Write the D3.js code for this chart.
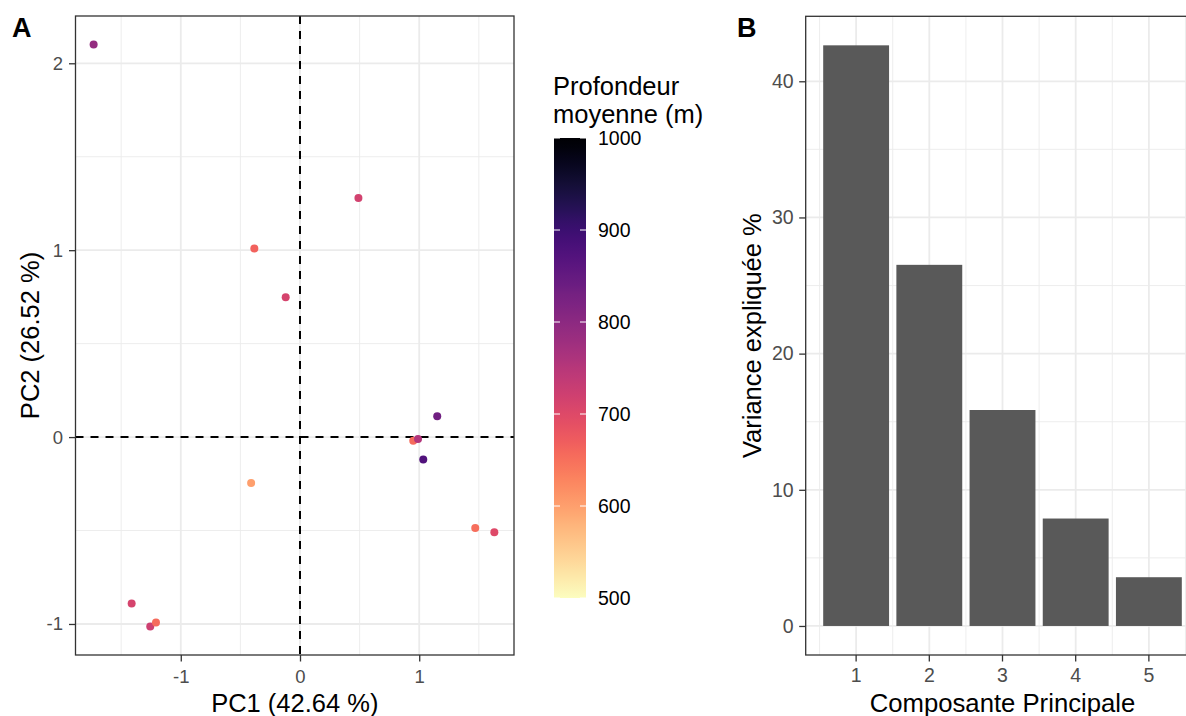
<!DOCTYPE html>
<html>
<head>
<meta charset="utf-8">
<script src="https://cdn.jsdelivr.net/npm/d3@7"></script>
<style>
  html, body { margin: 0; padding: 0; background: #fff; overflow: hidden; }
  svg { display: block; font-family: "Liberation Sans", Arial, sans-serif; }
</style>
</head>
<body>
<svg id="chart" width="1186" height="716"></svg>
<script>
// ---------- Data ----------
const pc1   = [-1.731, 0.490, -0.383, -0.120, 1.151, 0.950, 0.990, 1.034, -0.410, 1.470, 1.630, -1.412, -1.256, -1.208];
const pc2   = [ 2.100, 1.279,  1.009,  0.748, 0.112, -0.020, -0.010, -0.120, -0.246, -0.487, -0.509, -0.890, -1.014, -0.992];
const depth = [ 790,   715,    665,    712,   835,   655,    755,    875,    600,    652,    700,    712,    722,    655];

const components = [1, 2, 3, 4, 5];
const variance   = [42.64, 26.52, 15.86, 7.89, 3.58];

const xTicksA = [-1, 0, 1];
const yTicksA = [-1, 0, 1, 2];
const legendTicks = [500, 600, 700, 800, 900, 1000];
const yTicksB = [0, 10, 20, 30, 40];

const xTitleA = "PC1 (42.64 %)";
const yTitleA = "PC2 (26.52 %)";
const legendTitle = ["Profondeur", "moyenne (m)"];
const xTitleB = "Composante Principale";
const yTitleB = "Variance expliquée %";

// ---------- Setup ----------
const svg = d3.select("#chart");
const gridCol = "#EBEBEB", axisCol = "#333333", tickTxt = "#4D4D4D";
const depthColor = v => d3.interpolateMagma(1 - (v - 500) / 500);
const minusFmt = d => d < 0 ? "-" + Math.abs(d) : String(d);

// ---------- Panel A ----------
const A = { left: 75.5, right: 514, top: 16, bottom: 655 };
const xA = d3.scaleLinear().domain([-1.883, 1.795]).range([A.left, A.right]);
const yA = d3.scaleLinear().domain([-1.166, 2.253]).range([A.bottom, A.top]);

const gA = svg.append("g");
gA.selectAll(".xminA").data([-1.5, -0.5, 0.5, 1.5]).join("line")
  .attr("x1", d => xA(d)).attr("x2", d => xA(d)).attr("y1", A.top).attr("y2", A.bottom)
  .attr("stroke", gridCol).attr("stroke-width", 0.9);
gA.selectAll(".yminA").data([-0.5, 0.5, 1.5]).join("line")
  .attr("y1", d => yA(d)).attr("y2", d => yA(d)).attr("x1", A.left).attr("x2", A.right)
  .attr("stroke", gridCol).attr("stroke-width", 0.9);
gA.selectAll(".xmajA").data(xTicksA).join("line")
  .attr("x1", d => xA(d)).attr("x2", d => xA(d)).attr("y1", A.top).attr("y2", A.bottom)
  .attr("stroke", gridCol).attr("stroke-width", 1.8);
gA.selectAll(".ymajA").data(yTicksA).join("line")
  .attr("y1", d => yA(d)).attr("y2", d => yA(d)).attr("x1", A.left).attr("x2", A.right)
  .attr("stroke", gridCol).attr("stroke-width", 1.8);
gA.append("line").attr("x1", A.left).attr("x2", A.right).attr("y1", yA(0)).attr("y2", yA(0))
  .attr("stroke", "#000").attr("stroke-width", 2).attr("stroke-dasharray", "8,7");
gA.append("line").attr("x1", xA(0)).attr("x2", xA(0)).attr("y1", A.top).attr("y2", A.bottom)
  .attr("stroke", "#000").attr("stroke-width", 2).attr("stroke-dasharray", "8,7");
gA.selectAll("circle").data(pc1.map((d, i) => ({ x: d, y: pc2[i], z: depth[i] }))).join("circle")
  .attr("cx", d => xA(d.x)).attr("cy", d => yA(d.y)).attr("r", 4)
  .attr("fill", d => depthColor(d.z));
gA.append("rect").attr("x", A.left).attr("y", A.top).attr("width", A.right - A.left).attr("height", A.bottom - A.top)
  .attr("fill", "none").attr("stroke", axisCol).attr("stroke-width", 1.3);
const axA_x = gA.append("g").attr("transform", `translate(0,${A.bottom})`)
  .call(d3.axisBottom(xA).tickValues(xTicksA).tickSize(6.5).tickPadding(3).tickFormat(minusFmt));
const axA_y = gA.append("g").attr("transform", `translate(${A.left},0)`)
  .call(d3.axisLeft(yA).tickValues(yTicksA).tickSize(6.5).tickPadding(6).tickFormat(minusFmt));
[axA_x, axA_y].forEach(ax => {
  ax.select(".domain").remove();
  ax.selectAll("line").attr("stroke", axisCol).attr("stroke-width", 1.3);
  ax.selectAll("text").attr("fill", tickTxt).style("font-size", "18.5px").style("font-family", "Liberation Sans, Arial, sans-serif");
});
axA_x.selectAll("text").attr("dy", "1.0em");
svg.append("text").attr("x", (A.left + A.right) / 2).attr("y", 712).attr("text-anchor", "middle")
  .style("font-size", "25.5px").attr("fill", "#000").text(xTitleA);
svg.append("text").attr("transform", `translate(39,${(A.top + A.bottom) / 2}) rotate(-90)`).attr("text-anchor", "middle")
  .style("font-size", "25.5px").attr("fill", "#000").text(yTitleA);
svg.append("text").attr("x", 12).attr("y", 37).style("font-size", "27px").style("font-weight", "bold").text("A");

// ---------- Legend (colorbar) ----------
const L = { x: 554, w: 32, top: 138, bottom: 598 };
const yL = d3.scaleLinear().domain([500, 1000]).range([L.bottom, L.top]);
const defs = svg.append("defs");
const grad = defs.append("linearGradient").attr("id", "magmaGrad")
  .attr("x1", 0).attr("y1", 1).attr("x2", 0).attr("y2", 0);
d3.range(0, 1.0001, 0.02).forEach(t => {
  grad.append("stop").attr("offset", t).attr("stop-color", depthColor(500 + t * 500));
});
svg.append("rect").attr("x", L.x).attr("y", L.top).attr("width", L.w).attr("height", L.bottom - L.top)
  .attr("fill", "url(#magmaGrad)");
const gL = svg.append("g");
gL.selectAll(".ltl").data(legendTicks).join("line")
  .attr("x1", L.x).attr("x2", L.x + 6).attr("y1", d => yL(d)).attr("y2", d => yL(d))
  .attr("stroke", "#fff").attr("stroke-width", 1);
gL.selectAll(".ltr").data(legendTicks).join("line")
  .attr("x1", L.x + L.w - 6).attr("x2", L.x + L.w).attr("y1", d => yL(d)).attr("y2", d => yL(d))
  .attr("stroke", "#fff").attr("stroke-width", 1);
gL.selectAll("text").data(legendTicks).join("text")
  .attr("x", L.x + L.w + 12).attr("y", d => yL(d)).attr("dy", "0.35em")
  .style("font-size", "19.5px").attr("fill", "#000").text(d => d);
svg.append("g").selectAll("text").data(legendTitle).join("text")
  .attr("x", L.x - 1).attr("y", (d, i) => 95 + i * 28)
  .style("font-size", "25.5px").attr("fill", "#000").text(d => d);

// ---------- Panel B ----------
const B = { left: 805.7, right: 1199.3, top: 16.3, bottom: 655 };
const xB = d3.scaleBand().domain(components).range([B.left, B.right]).paddingInner(0.1).paddingOuter(0.239);
const yB = d3.scaleLinear().domain([-2.132, 44.772]).range([B.bottom, B.top]);
const stepB = xB.step();
const centerB = c => xB(c) + xB.bandwidth() / 2;
const gB = svg.append("g");
gB.selectAll(".xminB").data([components[0] - 0.5, ...components.map(c => c + 0.5)]).join("line")
  .attr("x1", d => centerB(1) + (d - 1) * stepB).attr("x2", d => centerB(1) + (d - 1) * stepB)
  .attr("y1", B.top).attr("y2", B.bottom).attr("stroke", gridCol).attr("stroke-width", 0.9);
gB.selectAll(".yminB").data([5, 15, 25, 35]).join("line")
  .attr("y1", d => yB(d)).attr("y2", d => yB(d)).attr("x1", B.left).attr("x2", B.right)
  .attr("stroke", gridCol).attr("stroke-width", 0.9);
gB.selectAll(".xmajB").data(components).join("line")
  .attr("x1", d => centerB(d)).attr("x2", d => centerB(d)).attr("y1", B.top).attr("y2", B.bottom)
  .attr("stroke", gridCol).attr("stroke-width", 1.8);
gB.selectAll(".ymajB").data(yTicksB).join("line")
  .attr("y1", d => yB(d)).attr("y2", d => yB(d)).attr("x1", B.left).attr("x2", B.right)
  .attr("stroke", gridCol).attr("stroke-width", 1.8);
gB.selectAll("rect.bar").data(components.map((c, i) => ({ c, v: variance[i] }))).join("rect")
  .attr("class", "bar")
  .attr("x", d => xB(d.c)).attr("width", xB.bandwidth())
  .attr("y", d => yB(d.v)).attr("height", d => yB(0) - yB(d.v))
  .attr("fill", "#595959");
gB.append("rect").attr("x", B.left).attr("y", B.top).attr("width", B.right - B.left).attr("height", B.bottom - B.top)
  .attr("fill", "none").attr("stroke", axisCol).attr("stroke-width", 1.3);
const axB_x = gB.append("g").attr("transform", `translate(0,${B.bottom})`)
  .call(d3.axisBottom(xB).tickSize(6.5).tickPadding(3));
const axB_y = gB.append("g").attr("transform", `translate(${B.left},0)`)
  .call(d3.axisLeft(yB).tickValues(yTicksB).tickSize(6.5).tickPadding(5.5));
[axB_x, axB_y].forEach(ax => {
  ax.select(".domain").remove();
  ax.selectAll("line").attr("stroke", axisCol).attr("stroke-width", 1.3);
  ax.selectAll("text").attr("fill", tickTxt).style("font-size", "19.5px").style("font-family", "Liberation Sans, Arial, sans-serif");
});
axB_x.selectAll("text").attr("dy", "0.92em");
svg.append("text").attr("x", (B.left + B.right) / 2).attr("y", 712).attr("text-anchor", "middle")
  .style("font-size", "25.7px").attr("fill", "#000").text(xTitleB);
svg.append("text").attr("transform", `translate(761,${(B.top + B.bottom) / 2}) rotate(-90)`).attr("text-anchor", "middle")
  .style("font-size", "25.5px").attr("fill", "#000").text(yTitleB);
svg.append("text").attr("x", 737).attr("y", 37).style("font-size", "27px").style("font-weight", "bold").text("B");
</script>
</body>
</html>
